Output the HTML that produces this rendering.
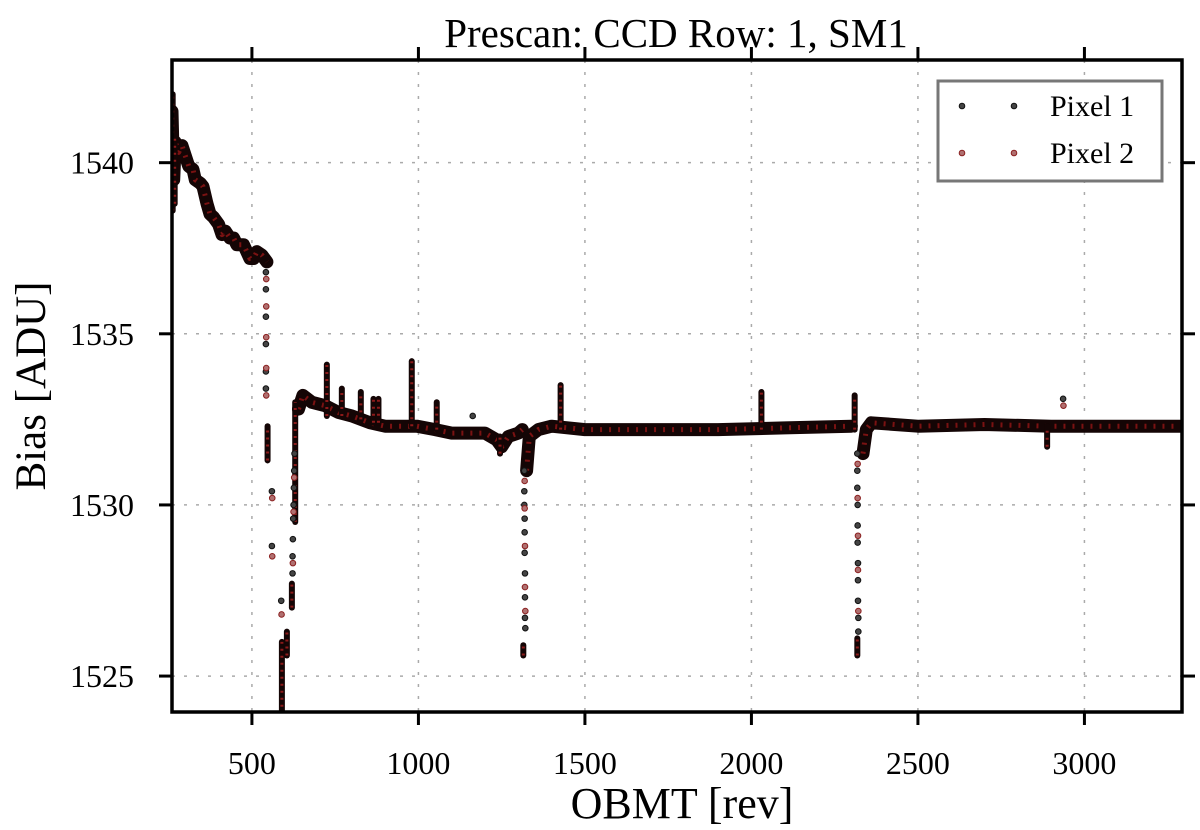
<!DOCTYPE html>
<html><head><meta charset="utf-8"><style>
html,body{margin:0;padding:0;background:#fff;}
svg{display:block;font-family:"Liberation Serif","DejaVu Serif",serif;}
</style></head><body>
<svg id="chart" width="1200" height="830" viewBox="0 0 1200 830">
<text x="676" y="47" font-size="41" text-anchor="middle">Prescan: CCD Row: 1, SM1</text>
<text x="682" y="818" font-size="44" text-anchor="middle">OBMT [rev]</text>
<text transform="translate(45,386) rotate(-90)" font-size="43" text-anchor="middle">Bias [ADU]</text>
<g id="grid"></g>
<g id="marks"></g>
<g id="axes"></g>
<g>
<rect x="938" y="81" width="224" height="100" fill="#fff" stroke="#777" stroke-width="3"/>
<g>
<circle cx="962" cy="106" r="2.8" fill="#444" stroke="#111" stroke-width="1"/>
<circle cx="1014" cy="106" r="2.8" fill="#444" stroke="#111" stroke-width="1"/>
<text x="1050" y="116" font-size="30">Pixel 1</text></g>
<g>
<circle cx="962" cy="153" r="2.8" fill="#b07070" stroke="#8b2020" stroke-width="1"/>
<circle cx="1014" cy="153" r="2.8" fill="#b07070" stroke="#8b2020" stroke-width="1"/>
<text x="1050" y="163" font-size="30">Pixel 2</text></g>
</g>
</svg>
<script>
// ---- data ----
const xTicks = [500,1000,1500,2000,2500,3000];
const yTicks = [1525,1530,1535,1540];
// Pixel 1 trend (null = break)
const trendX = [260,265,270,280,290,300,310,323,330,345,353,365,374,385,400,410,420,434,445,455,464,475,494,505,515,530,545,null,
 640,653,680,720,760,800,855,900,995,1050,1100,1200,1235,1250,1270,1300,1312,null,
 1325,1333,1360,1400,1500,1700,1900,2100,2300,null,
 2335,2345,2360,2500,2700,2900,3100,3300];
const trendY = [1541.5,1539.5,1540.6,1540.3,1540.5,1540.2,1539.9,1539.8,1539.5,1539.4,1539.3,1538.8,1538.5,1538.4,1538.2,1537.9,1538.0,1537.8,1537.8,1537.6,1537.6,1537.6,1537.2,1537.2,1537.4,1537.3,1537.1,null,
 1532.8,1533.2,1533.0,1532.9,1532.7,1532.6,1532.4,1532.3,1532.3,1532.2,1532.1,1532.1,1531.9,1531.7,1532.0,1532.1,1532.2,null,
 1531.0,1532.0,1532.2,1532.3,1532.2,1532.2,1532.2,1532.25,1532.3,null,
 1531.5,1532.2,1532.4,1532.3,1532.35,1532.3,1532.3,1532.3];
// dense columns / spikes: x, low, high
const barX    = [262,  268,   547,   590,   605,   620,   630,   725,   770,   827,   865,   880,   980,   1055,  1245,  1315,  1427,  2030,  2310,  2318,  2888];
const barLow  = [1538.6,1538.8,1531.3,1523.9,1525.6,1527.0,1529.5,1532.6,1532.6,1532.5,1532.4,1532.4,1532.3,1532.2,1531.5,1525.6,1532.2,1532.2,1532.2,1525.6,1531.7];
const barHigh = [1542.0,1540.8,1532.3,1526.0,1526.3,1527.7,1533.0,1534.1,1533.4,1533.3,1533.1,1533.1,1534.2,1533.0,1532.0,1525.9,1533.5,1533.3,1533.2,1526.1,1532.3];
// sparse points pixel 1
const dotX = [542,542,542,542,542,542,560,560,588,622,622,623,624,625,626,627,628,1163,
 1318,1318,1318,1319,1319,1319,1320,1320,1320,1321,
 2318,2318,2318,2319,2319,2319,2320,2320,2320,2321,2321,2936];
const dotY = [1536.8,1536.3,1535.5,1534.7,1533.9,1533.4,1530.4,1528.8,1527.2,1528.0,1528.5,1529.0,1529.6,1530.0,1530.5,1531.0,1531.5,1532.6,
 1531.0,1530.4,1530.0,1529.6,1529.2,1528.6,1528.0,1527.3,1526.7,1526.4,
 1531.5,1531.0,1530.5,1530.0,1529.4,1528.9,1528.3,1527.8,1527.2,1526.7,1526.3,1533.1];
// sparse points pixel 2
const dot2X = [543,543,543,543,543,561,561,589,623,625,627,1319,1319,1320,1320,1321,2319,2319,2320,2320,2321,2937];
const dot2Y = [1536.6,1535.8,1534.9,1534.0,1533.2,1530.2,1528.5,1526.8,1528.3,1529.8,1530.8,1530.7,1529.9,1528.8,1527.6,1526.9,1531.2,1530.2,1529.1,1528.1,1526.9,1532.9];

// ---- scales ----
const L=172,R=1182,T=60,B=712, X0=260,X1=3293, Y0=1523.95,Y1=1543.0;
const sx=v=>L+(v-X0)/(X1-X0)*(R-L);
const sy=v=>B-(v-Y0)/(Y1-Y0)*(B-T);
const NS='http://www.w3.org/2000/svg';
function mk(tag,attrs,parent){const e=document.createElementNS(NS,tag);for(const k in attrs)e.setAttribute(k,attrs[k]);parent.appendChild(e);return e;}
const grid=document.getElementById('grid'),marks=document.getElementById('marks'),axes=document.getElementById('axes');

xTicks.forEach(v=>{
  const g=mk('line',{x1:sx(v),x2:sx(v),y1:T,y2:B,stroke:'#aaa','stroke-width':1.5,'stroke-dasharray':'3 9'},grid);
  
  
});
yTicks.forEach(v=>{
  const g=mk('line',{x1:L,x2:R,y1:sy(v),y2:sy(v),stroke:'#aaa','stroke-width':1.5,'stroke-dasharray':'3 9'},grid);
  
  
});

const defs=mk('defs',{},marks);
const cp=mk('clipPath',{id:'clip'},defs);
mk('rect',{x:L,y:T,width:R-L,height:B-T},cp);
const pg=mk('g',{'clip-path':'url(#clip)'},marks);

let d='',pen=false;
for(let i=0;i<trendX.length;i++){
  if(trendX[i]===null){pen=false;continue;}
  d+=(pen?'L':'M')+sx(trendX[i]).toFixed(1)+','+sy(trendY[i]).toFixed(1);pen=true;
}
const band=mk('path',{d:d,fill:'none',stroke:'#140505','stroke-width':13,'stroke-linejoin':'round','stroke-linecap':'round'},pg);


const band2=mk('path',{d:d,fill:'none',stroke:'#7a1212','stroke-width':5,'stroke-dasharray':'2 7','stroke-linejoin':'round'},pg);



for(let i=0;i<barX.length;i++){
  const b=mk('line',{x1:sx(barX[i]),x2:sx(barX[i]),y1:sy(barLow[i]),y2:sy(barHigh[i]),stroke:'#140505','stroke-width':6,'stroke-linecap':'round'},pg);
  
  
  const b2=mk('line',{x1:sx(barX[i]),x2:sx(barX[i]),y1:sy(barLow[i]),y2:sy(barHigh[i]),stroke:'#8b1a1a','stroke-width':3,'stroke-dasharray':'2 5'},pg);
  
  
}
for(let i=0;i<dotX.length;i++){
  const c=mk('circle',{cx:sx(dotX[i]),cy:sy(dotY[i]),r:2.8,fill:'#444',stroke:'#111','stroke-width':1},pg);
  
  
}
for(let i=0;i<dot2X.length;i++){
  const c=mk('circle',{cx:sx(dot2X[i]),cy:sy(dot2Y[i]),r:2.8,fill:'#b07070',stroke:'#8b2020','stroke-width':1},pg);
  
  
}

const fr=mk('rect',{x:L,y:T,width:R-L,height:B-T,fill:'none',stroke:'#000','stroke-width':3.5},axes);


xTicks.forEach(v=>{
  mk('line',{x1:sx(v),x2:sx(v),y1:B,y2:B+13,stroke:'#000','stroke-width':3},axes);
  mk('line',{x1:sx(v),x2:sx(v),y1:T,y2:T-13,stroke:'#000','stroke-width':3},axes);
  const t=mk('text',{x:sx(v),y:774,'font-size':32,'text-anchor':'middle'},axes);
  t.textContent=v;
  
  
});
yTicks.forEach(v=>{
  mk('line',{x1:L,x2:L-13,y1:sy(v),y2:sy(v),stroke:'#000','stroke-width':3},axes);
  mk('line',{x1:R,x2:R+13,y1:sy(v),y2:sy(v),stroke:'#000','stroke-width':3},axes);
  const t=mk('text',{x:134,y:sy(v)+11,'font-size':32,'text-anchor':'end'},axes);
  t.textContent=v;
  
  
});
</script>
</body></html>
